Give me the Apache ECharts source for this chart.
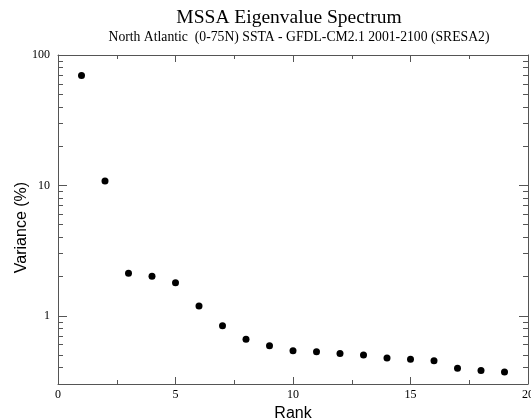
<!DOCTYPE html>
<html>
<head>
<meta charset="utf-8">
<script src="https://cdn.jsdelivr.net/npm/echarts@6/dist/echarts.min.js"></script>
<style>
  html, body { margin: 0; padding: 0; background: #fff; }
  #chart { width: 531px; height: 419px; }
</style>
</head>
<body>
<div id="chart"></div>
<script>
// eigenvalue rank and percent variance
const ranks = [1, 2, 3, 4, 5, 6, 7, 8, 9, 10, 11, 12, 13, 14, 15, 16, 17, 18, 19];
const variance = [69.5, 10.8, 2.12, 2.01, 1.79, 1.19, 0.84, 0.66, 0.59, 0.54, 0.53, 0.515, 0.50, 0.475, 0.464, 0.453, 0.396, 0.38, 0.37];

const serif = 'Liberation Serif';
const sans = 'Liberation Sans';
const axisCol = '#555';

const chart = echarts.init(document.getElementById('chart'));

function xAx(pos, showLabel) {
    return {
        type: 'value', position: pos, min: 0, max: 20, interval: 5,
        axisLine: { show: true, onZero: false, lineStyle: { color: axisCol, width: 1 } },
        axisTick: { show: true, inside: true, length: 7, lineStyle: { color: axisCol } },
        minorTick: { show: true, splitNumber: 2, length: 4, lineStyle: { color: axisCol } },
        axisLabel: { show: showLabel, color: '#000', fontFamily: serif, fontSize: 12, margin: 5 },
        splitLine: { show: false }
    };
}
function yAx(pos, showLabel) {
    return {
        type: 'log', logBase: 10, position: pos, min: 0.3, max: 100,
        axisLine: { show: true, onZero: false, lineStyle: { color: axisCol, width: 1 } },
        axisTick: { show: true, inside: true, length: 9, lineStyle: { color: axisCol } },
        minorTick: { show: true, splitNumber: 9, length: 5, lineStyle: { color: axisCol } },
        axisLabel: {
            show: showLabel, color: '#000', fontFamily: serif, fontSize: 12, margin: 8,
            showMinLabel: false,
            formatter: function (v) {
                const l = Math.log10(v);
                return Math.abs(l - Math.round(l)) < 1e-6 ? String(Math.round(v)) : '';
            }
        },
        splitLine: { show: false }
    };
}

const xBottom = xAx('bottom', true);
xBottom.name = 'Rank';
xBottom.nameLocation = 'middle';
xBottom.nameGap = 15;
xBottom.nameTextStyle = { fontFamily: sans, fontSize: 16, color: '#000' };

const yLeft = yAx('left', true);
yLeft.name = 'Variance (%)';
yLeft.nameLocation = 'middle';
yLeft.nameGap = 28;
yLeft.nameMoveOverlap = false;
yLeft.nameTextStyle = { fontFamily: sans, fontSize: 16, color: '#000', padding: [0, 16, 0, 0] };

chart.setOption({
    animation: false,
    title: [
        { text: 'MSSA Eigenvalue Spectrum', left: 284, top: 3, textAlign: 'center',
          textStyle: { fontFamily: serif, fontSize: 19.5, fontWeight: 'normal', color: '#000' } },
        { text: 'North Atlantic  (0-75N) SSTA - GFDL-CM2.1 2001-2100 (SRESA2)', left: 294, top: 25, textAlign: 'center',
          textStyle: { fontFamily: serif, fontSize: 13.7, fontWeight: 'normal', color: '#000' } }
    ],
    grid: { left: 58, right: 3, top: 55, bottom: 35, containLabel: false, outerBoundsMode: 'none' },
    xAxis: [xBottom, xAx('top', false)],
    yAxis: [yLeft, yAx('right', false)],
    series: [{
        type: 'scatter',
        data: ranks.map((r, i) => [r, variance[i]]),
        symbol: 'circle',
        symbolSize: 7,
        itemStyle: { color: '#000', opacity: 1 }
    }]
});
</script>
</body>
</html>
